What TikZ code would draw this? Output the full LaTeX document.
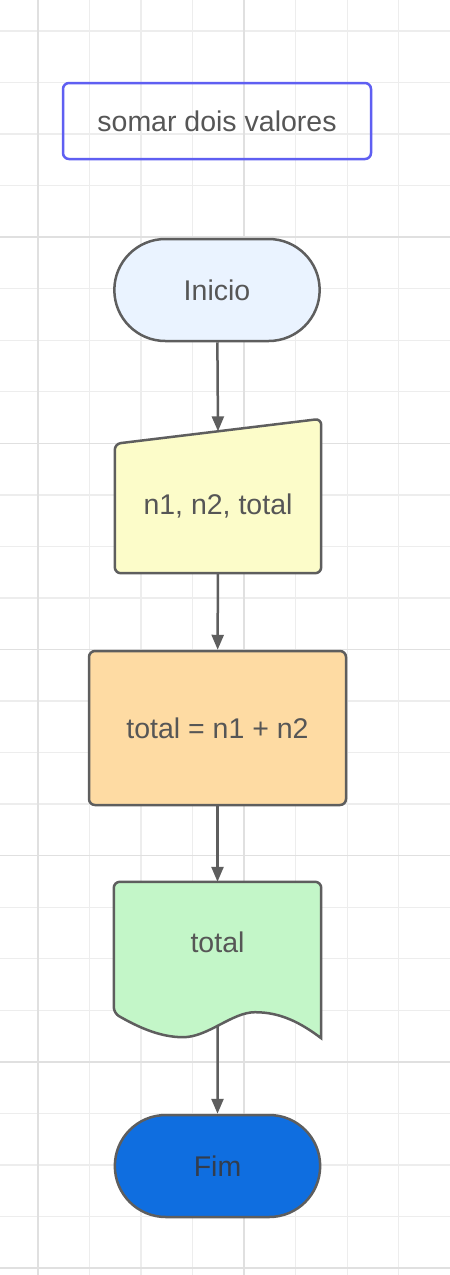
\documentclass[tikz,border=0pt]{standalone}
\usepackage{fontspec}
\setmainfont{Liberation Sans}
\usetikzlibrary{shapes.misc, arrows.meta, calc, backgrounds}
\definecolor{linha}{HTML}{5E5E5E}
\definecolor{texto}{HTML}{565656}
\definecolor{titulo}{HTML}{5F5FF2}
\definecolor{iniciofill}{HTML}{EAF3FF}
\definecolor{entradafill}{HTML}{FCFCC9}
\definecolor{processofill}{HTML}{FEDBA3}
\definecolor{saidafill}{HTML}{C3F6C8}
\definecolor{fimfill}{HTML}{0F6EE0}
\definecolor{fimtexto}{HTML}{333D4D}
\definecolor{gradeclara}{HTML}{EDEDED}
\definecolor{gradeforte}{HTML}{E0E0E0}
\tikzset{
  every node/.style={font=\fontsize{28.5}{32}\selectfont, text=texto},
  forma/.style={draw=linha, line width=2.5pt},
  terminal/.style={
    forma, rounded rectangle,
    minimum width=212pt, minimum height=102pt
  },
  seta/.style={draw=linha, line width=2.5pt, -{Triangle[length=15pt, width=12pt]}},
  grade/.style={draw=gradeclara, line width=1.3pt},
  gradeescura/.style={draw=gradeforte, line width=1.5pt},
}

\begin{document}
\begin{tikzpicture}[x=1pt, y=-1pt]
  \useasboundingbox (0,0) rectangle (450,1275);

  \node[draw=titulo, line width=2.5pt, rounded corners=6pt,
        minimum width=308pt, minimum height=76pt] (titulo) at (217,121) {somar dois valores};
  \node[terminal, fill=iniciofill] (inicio) at (217,290) {Inicio};
  \node[minimum width=206pt, minimum height=154pt,
        text height=40pt, text depth=4pt] (entrada) at (218,496) {n1, n2, total};
  \node[forma, rounded corners=6pt, fill=processofill,
        minimum width=257pt, minimum height=154pt] (processo) at (217.5,728) {total = n1 + n2};
  \node[minimum width=207pt, minimum height=120pt] (saida) at (217.5,942) {total};
  \node[terminal, fill=fimfill, text=fimtexto] (fim) at (217.5,1166) {Fim};

  \coordinate (entrada-topo) at ($($(entrada.north west)+(0,25)$)!0.5!(entrada.north east)$);
  \coordinate (saida-onda) at ($(saida.south)+(0,24)$);

  \begin{scope}[on background layer]
    \fill[white] (0,0) rectangle (450,1275);
    % grade
    \foreach \i in {0,...,7}
      \draw[grade] ({38+51.54*\i},0) -- ({38+51.54*\i},1275);
    \foreach \j in {0,...,24}
      \draw[grade] (0,{31+51.54*\j}) -- (450,{31+51.54*\j});
    \foreach \i in {0,4}
      \draw[gradeescura] ({38+51.54*\i},0) -- ({38+51.54*\i},1275);
    \foreach \j in {4,8,...,24}
      \draw[gradeescura] (0,{31+51.54*\j}) -- (450,{31+51.54*\j});

    % entrada manual
    \draw[forma, rounded corners=6pt, fill=entradafill]
      ($(entrada.north west)+(0,25)$) -- (entrada.north east)
      -- (entrada.south east) -- (entrada.south west) -- cycle;

    % documento
    \draw[forma, fill=saidafill]
      ($(saida.south east)+(0,36)$) [rounded corners=6pt] -- (saida.north east)
      -- (saida.north west) -- ($(saida.south west)+(0,11)$) [sharp corners]
      .. controls ($(saida.south)+(-82.5,23)$) and ($(saida.south)+(-59.5,35)$) .. ($(saida.south)+(-34.5,35)$)
      .. controls ($(saida.south)+(-9.5,35)$) and ($(saida.south)+(14.5,10)$) .. ($(saida.south)+(37.5,10)$)
      .. controls ($(saida.south)+(62.5,10)$) and ($(saida.south)+(82.5,20)$) .. cycle;
  \end{scope}

  \draw[seta] (inicio) -- (entrada-topo);
  \draw[seta] (entrada) -- (processo);
  \draw[seta] (processo) -- (saida);
  \draw[seta] (saida-onda) -- (fim);
\end{tikzpicture}
\end{document}
